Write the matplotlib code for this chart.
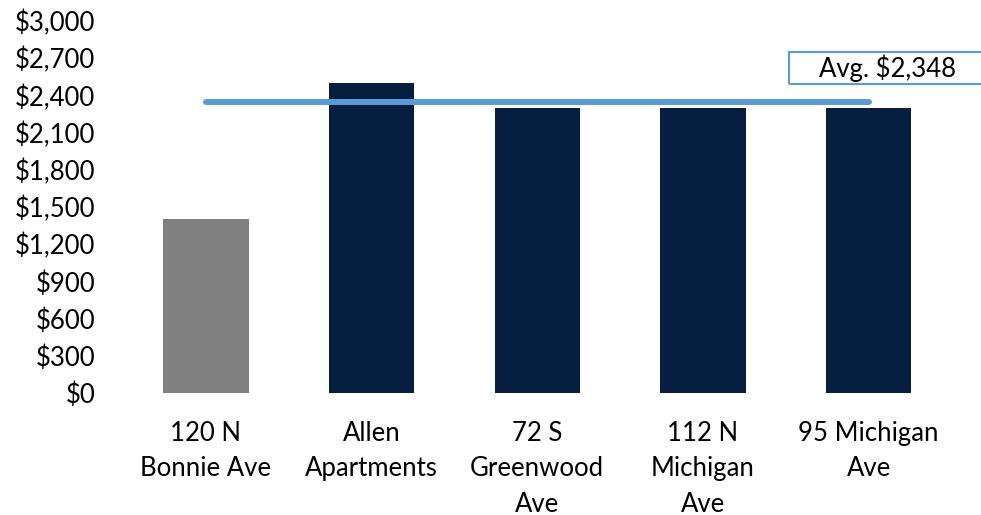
import matplotlib.pyplot as plt
import matplotlib.patches as mpatches
import numpy as np

plt.rcParams['font.family'] = ['Lato', 'DejaVu Sans']

# Rent per property
properties = ['120 N\nBonnie Ave', 'Allen\nApartments', '72 S\nGreenwood\nAve',
              '112 N\nMichigan\nAve', '95 Michigan\nAve']
rents = [1400, 2500, 2300, 2296, 2296]
bar_colors = ['#808080', '#061F40', '#061F40', '#061F40', '#061F40']
y_ticks = [0, 300, 600, 900, 1200, 1500, 1800, 2100, 2400, 2700, 3000]

# average of the comparable (navy) properties
avg = np.mean(rents[1:])

fig = plt.figure(figsize=(9.81, 5.15), dpi=100)
ax = fig.add_axes([0.1254, 0.2369, 0.8446, 0.7223])

x = np.arange(len(properties))
ax.bar(x, rents, width=0.515, color=bar_colors, edgecolor='none')

# average line across the bars
ax.plot([x[0], x[-1]], [avg, avg], color='#5B9BD5', linewidth=4.3,
        solid_capstyle='round')

ax.set_xlim(-0.5, len(properties) - 0.5)
ax.set_ylim(0, 3000)
ax.set_yticks(y_ticks)
ax.set_yticklabels([f'${v:,.0f}' for v in y_ticks])
ax.set_xticks(x)
ax.set_xticklabels(properties, linespacing=1.52)
ax.tick_params(axis='y', length=0, pad=20, labelsize=18.5)
ax.tick_params(axis='x', length=0, pad=20, labelsize=18.5)
for s in ax.spines.values():
    s.set_visible(False)

# label box, runs off the right edge
box = mpatches.Rectangle((789 / 981, 1 - 84 / 515), 0.25, 32 / 515,
                         transform=fig.transFigure, fill=False,
                         edgecolor='#5B9BD5', linewidth=1.5, clip_on=False)
fig.patches.append(box)
fig.text(888 / 981, 1 - 68 / 515, f'Avg. ${avg:,.0f}', ha='center',
         va='center', fontsize=18.5)

plt.savefig('out.png', dpi=100)
